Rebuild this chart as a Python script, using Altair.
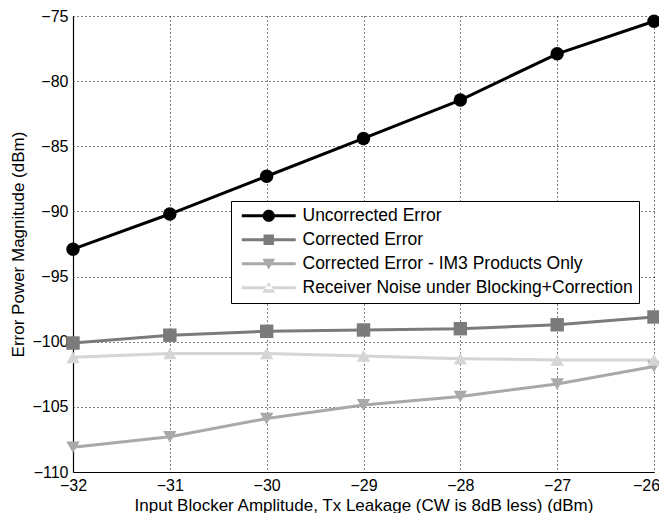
import altair as alt
import pandas as pd

x_vals = [-32, -31, -30, -29, -28, -27, -26]
series_names = [
    "Uncorrected Error",
    "Corrected Error",
    "Corrected Error - IM3 Products Only",
    "Receiver Noise under Blocking+Correction",
]
uncorrected = [-92.9, -90.2, -87.3, -84.4, -81.45, -77.9, -75.4]
corrected = [-100.1, -99.5, -99.2, -99.1, -99.0, -98.7, -98.1]
im3_only = [-108.1, -107.3, -105.9, -104.85, -104.2, -103.25, -101.9]
rx_noise = [-101.2, -100.9, -100.9, -101.1, -101.3, -101.4, -101.4]
y_ticks = [-110, -105, -100, -95, -90, -85, -80, -75]

colors = ["#000000", "#7b7b7b", "#a9a9a9", "#d5d5d5"]
shapes = ["circle", "square", "triangle-down", "triangle-up"]

rows = []
for name, vals in zip(series_names, [uncorrected, corrected, im3_only, rx_noise]):
    for xv, yv in zip(x_vals, vals):
        rows.append({"x": xv, "y": yv, "series": name})
df = pd.DataFrame(rows)

FONT = "Liberation Sans"

x_enc = alt.X(
    "x:Q",
    scale=alt.Scale(domain=[-32, -26], nice=False),
    axis=alt.Axis(
        values=x_vals, format="d", title="Input Blocker Amplitude, Tx Leakage (CW is 8dB less) (dBm)",
        grid=True, gridDash=[1, 3], gridColor="#000000", gridOpacity=1, gridWidth=1,
        ticks=False, domainColor="#000000", domainWidth=1.2,
        labelFont=FONT, labelFontSize=16, labelColor="#000000", labelPadding=5,
        labelOffset={"condition": {"test": "datum.value == -26", "value": -8}, "value": 0},
        titleFont=FONT, titleFontSize=17, titleFontWeight="normal", titleColor="#000000",
        titleBaseline="alphabetic", titleY=38, labelFlush=False,
    ),
)
y_enc = alt.Y(
    "y:Q",
    scale=alt.Scale(domain=[-110, -75], nice=False, zero=False),
    axis=alt.Axis(
        values=y_ticks, format="d", title="Error Power Magnitude (dBm)",
        grid=True, gridDash=[1, 3], gridColor="#000000", gridOpacity=1, gridWidth=1,
        ticks=False, domainColor="#000000", domainWidth=1.2,
        labelFont=FONT, labelFontSize=16, labelColor="#000000", labelPadding=5,
        titleFont=FONT, titleFontSize=17, titleFontWeight="normal", titleColor="#000000",
        titlePadding=4, labelFlush=False,
    ),
)

# legend symbols: filled bar (line) + filled marker
bar = "M-4.4,-0.24H4.4V0.24H-4.4Z"
p_circle = bar + "M1,0A1,1,0,1,1,-1,0A1,1,0,1,1,1,0Z"
p_square = bar + "M-0.85,-0.85H0.85V0.85H-0.85Z"
p_tdown = bar + "M-1.05,-0.8L1.05,-0.8L0,0.95Z"
p_tup = bar + "M-1.05,0.8L1.05,0.8L0,-0.95Z"
legend_shapes = [p_circle, p_square, p_tdown, p_tup]

legend = alt.Legend(
    title=None, orient="none", legendX=158, legendY=185,
    fillColor="#ffffff", strokeColor="#000000", padding=6,
    labelFont=FONT, labelFontSize=17.5, labelColor="#000000", labelLimit=0,
    symbolSize=150, symbolStrokeWidth=0, symbolOffset=23, labelOffset=25,
    rowPadding=5, symbolOpacity=1,
)

color_scale = alt.Scale(domain=series_names, range=colors)

base = alt.Chart(df)
legend_layer = base.transform_filter("datum.x > 1000").mark_point(filled=True, size=150, opacity=1).encode(
    x=x_enc, y=y_enc,
    color=alt.Color("series:N", scale=color_scale, legend=legend),
    shape=alt.Shape("series:N", scale=alt.Scale(domain=series_names, range=legend_shapes), legend=legend),
)
lines = base.mark_line(strokeWidth=3).encode(
    x=x_enc, y=y_enc,
    color=alt.Color("series:N", scale=color_scale, legend=None),
    detail="series:N",
)
point_layers = [
    base.transform_filter(alt.datum.series == name)
    .mark_point(filled=True, size=180, opacity=1, shape=shp)
    .encode(x=x_enc, y=y_enc, color=alt.Color("series:N", scale=color_scale, legend=None))
    for name, shp in zip(series_names, shapes)
]

chart = alt.layer(legend_layer, lines, *point_layers).properties(
    width=581, height=456,
    autosize=alt.AutoSizeParams(type="none"),
    padding={"left": 65, "top": 8, "right": 5, "bottom": 41},
    background="#ffffff",
).configure_view(stroke=None)

chart.save("out.html", embed_options={"renderer": "svg", "actions": False})
